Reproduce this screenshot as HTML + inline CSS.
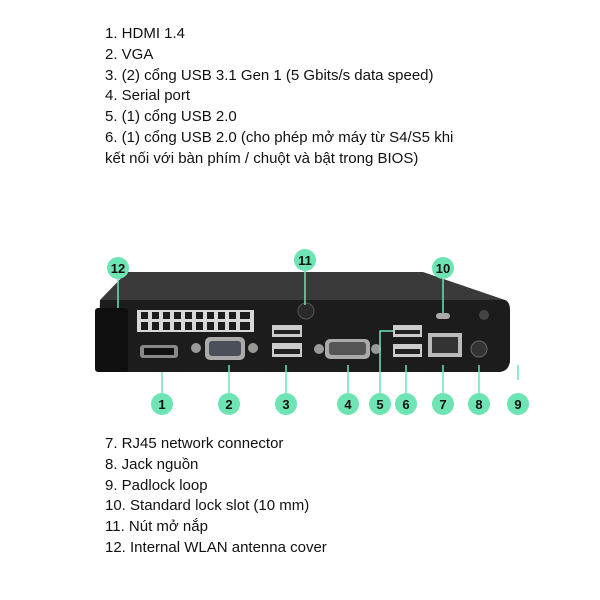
<!DOCTYPE html>
<html><head><meta charset="utf-8"><style>
html,body{margin:0;padding:0;background:#fff;}
body{width:600px;height:600px;position:relative;overflow:hidden;font-family:"Liberation Sans","DejaVu Sans",sans-serif;}
.t{position:absolute;left:105px;font-size:15px;line-height:20.8px;color:#111;white-space:nowrap;}
svg{position:absolute;left:0;top:0;}
</style></head><body>
<div class="t" style="top:24px">1. HDMI 1.4<br>2. VGA<br>3. (2) cổng USB 3.1 Gen 1 (5 Gbits/s data speed)<br>4. Serial port<br>5. (1) cổng USB 2.0<br>6. (1) cổng USB 2.0 (cho phép mở máy từ S4/S5 khi<br>kết nối với bàn phím / chuột và bật trong BIOS)</div>
<div class="t" style="top:434px">7. RJ45 network connector<br>8. Jack nguồn<br>9. Padlock loop<br>10. Standard lock slot (10 mm)<br>11. Nút mở nắp<br>12. Internal WLAN antenna cover</div>
<svg width="600" height="600" viewBox="0 0 600 600">
<!-- top surface -->
<polygon points="127,272 423,272 505,300 100,300" fill="#3a3a3a"/>
<!-- front face -->
<path d="M100,300 L505,300 Q510,302 510,310 L510,362 Q508,372 498,372 L102,372 Q98,370 98,362 Z" fill="#1c1c1c"/>
<!-- antenna cover -->
<rect x="95" y="308" width="33" height="64" rx="3" fill="#0f0f0f"/>
<!-- vent -->
<rect x="137" y="310" width="117" height="22" fill="#d8d8d8"/>
<g fill="#1c1c1c">
<rect x="141" y="312" width="7" height="7"/><rect x="152" y="312" width="7" height="7"/><rect x="163" y="312" width="7" height="7"/><rect x="174" y="312" width="7" height="7"/><rect x="185" y="312" width="7" height="7"/><rect x="196" y="312" width="7" height="7"/><rect x="207" y="312" width="7" height="7"/><rect x="218" y="312" width="7" height="7"/><rect x="229" y="312" width="7" height="7"/><rect x="240" y="312" width="10" height="7"/>
<rect x="141" y="322" width="7" height="8"/><rect x="152" y="322" width="7" height="8"/><rect x="163" y="322" width="7" height="8"/><rect x="174" y="322" width="7" height="8"/><rect x="185" y="322" width="7" height="8"/><rect x="196" y="322" width="7" height="8"/><rect x="207" y="322" width="7" height="8"/><rect x="218" y="322" width="7" height="8"/><rect x="229" y="322" width="7" height="8"/><rect x="240" y="322" width="10" height="8"/>
</g>
<!-- screw 11 -->
<circle cx="306" cy="311" r="8" fill="#2a2a2a" stroke="#555"/>
<!-- HDMI -->
<rect x="140" y="345" width="38" height="13" rx="3" fill="#888"/><rect x="144" y="348" width="30" height="7" fill="#111"/>
<!-- VGA -->
<circle cx="196" cy="348" r="5" fill="#999"/><circle cx="253" cy="348" r="5" fill="#999"/>
<rect x="205" y="337" width="40" height="23" rx="5" fill="#aaa"/><rect x="209" y="341" width="32" height="15" rx="3" fill="#4a4f5a"/>
<!-- USB 3 -->
<rect x="272" y="325" width="30" height="12" fill="#ccc"/><rect x="274" y="330" width="26" height="4" fill="#222"/>
<rect x="272" y="343" width="30" height="14" fill="#ccc"/><rect x="274" y="349" width="26" height="5" fill="#222"/>
<!-- serial -->
<circle cx="319" cy="349" r="5" fill="#999"/><circle cx="376" cy="349" r="5" fill="#999"/>
<rect x="325" y="339" width="45" height="20" rx="5" fill="#aaa"/><rect x="329" y="342" width="37" height="13" rx="3" fill="#555"/>
<!-- USB 2 -->
<rect x="393" y="325" width="29" height="12" fill="#ccc"/><rect x="395" y="330" width="25" height="4" fill="#222"/>
<rect x="393" y="344" width="29" height="13" fill="#ccc"/><rect x="395" y="349" width="25" height="5" fill="#222"/>
<!-- RJ45 -->
<rect x="428" y="333" width="34" height="24" fill="#bbb"/><rect x="432" y="337" width="26" height="16" fill="#333"/>
<!-- jack -->
<circle cx="479" cy="349" r="8" fill="#333" stroke="#666"/>
<!-- lock slot -->
<rect x="436" y="313" width="14" height="6" rx="3" fill="#aaa"/>
<circle cx="484" cy="315" r="5" fill="#444"/>
<!-- leader lines -->
<g stroke="#6ee3b3" stroke-width="1.5" fill="none">
<line x1="118" y1="270" x2="118" y2="308"/>
<line x1="305" y1="262" x2="305" y2="305"/>
<line x1="443" y1="270" x2="443" y2="313"/>
<line x1="162" y1="372" x2="162" y2="404"/>
<line x1="229" y1="365" x2="229" y2="404"/>
<line x1="286" y1="365" x2="286" y2="404"/>
<line x1="348" y1="365" x2="348" y2="404"/>
<polyline points="380,404 380,331 393,331"/>
<line x1="406" y1="365" x2="406" y2="404"/>
<line x1="443" y1="365" x2="443" y2="404"/>
<line x1="479" y1="365" x2="479" y2="404"/>
<line x1="518" y1="365" x2="518" y2="380"/>
</g>
<g fill="#6ee3b3">
<circle cx="118" cy="268" r="11"/><circle cx="305" cy="260" r="11"/><circle cx="443" cy="268" r="11"/>
<circle cx="162" cy="404" r="11"/><circle cx="229" cy="404" r="11"/><circle cx="286" cy="404" r="11"/><circle cx="348" cy="404" r="11"/><circle cx="380" cy="404" r="11"/><circle cx="406" cy="404" r="11"/><circle cx="443" cy="404" r="11"/><circle cx="479" cy="404" r="11"/><circle cx="518" cy="404" r="11"/>
</g>
<g font-family="Liberation Sans, sans-serif" font-size="13" font-weight="bold" fill="#111" text-anchor="middle">
<text x="118" y="273">12</text><text x="305" y="265">11</text><text x="443" y="273">10</text>
<text x="162" y="409">1</text><text x="229" y="409">2</text><text x="286" y="409">3</text><text x="348" y="409">4</text><text x="380" y="409">5</text><text x="406" y="409">6</text><text x="443" y="409">7</text><text x="479" y="409">8</text><text x="518" y="409">9</text>
</g>
</svg>
</body></html>
